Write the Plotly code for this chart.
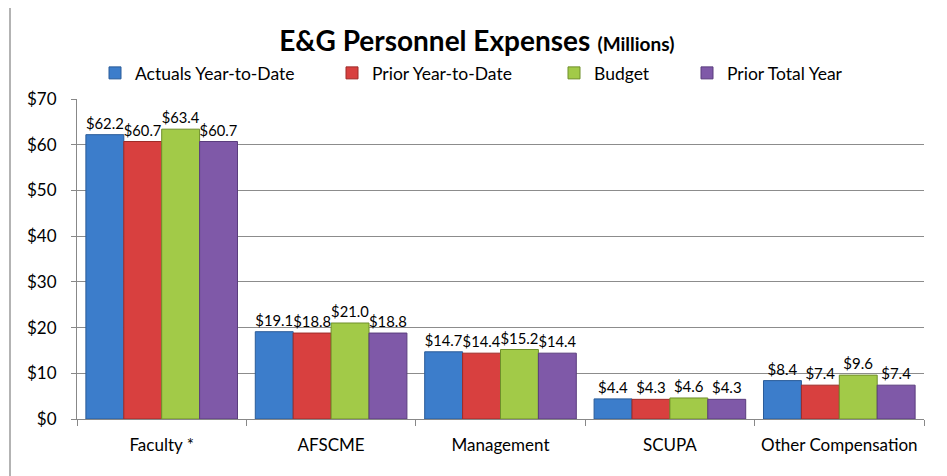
import plotly.graph_objects as go

categories = ["Faculty *", "AFSCME", "Management", "SCUPA", "Other Compensation"]
series_names = ["Actuals Year-to-Date", "Prior Year-to-Date", "Budget", "Prior Total Year"]
actuals_ytd = [62.2, 19.1, 14.7, 4.4, 8.4]
prior_ytd = [60.7, 18.8, 14.4, 4.3, 7.4]
budget = [63.4, 21.0, 15.2, 4.6, 9.6]
prior_total = [60.7, 18.8, 14.4, 4.3, 7.4]
tick_vals = [0, 10, 20, 30, 40, 50, 60, 70]
tick_text = ["$0", "$10", "$20", "$30", "$40", "$50", "$60", "$70"]

W, H = 947, 476
colors = ["#3C7DCB", "#D8403F", "#A2CA48", "#7F59A8"]
line_colors = ["#2A5C99", "#9E2B28", "#6F8F2A", "#5A3D7D"]
series_values = [actuals_ytd, prior_ytd, budget, prior_total]
legend_ids = ["legend", "legend2", "legend3", "legend4"]
legend_px = [87, 324, 546, 679]

FONT = "Lato"
fig = go.Figure()
for name, vals, c, lc, lid in zip(series_names, series_values, colors, line_colors, legend_ids):
    fig.add_trace(go.Bar(
        name=name, x=categories, y=vals,
        marker=dict(color=c, line=dict(color=lc, width=1)),
        text=[f"${v:.1f}" for v in vals], textposition="outside",
        textfont=dict(family=FONT, size=15, color="#000000"),
        cliponaxis=False, legend=lid, showlegend=True,
    ))

layout_legends = {}
for lid, lx in zip(legend_ids, legend_px):
    layout_legends[lid] = dict(
        xref="container", yref="container",
        x=lx / W, y=1 - 65 / H, xanchor="left", yanchor="middle", orientation="h",
        font=dict(family=FONT, size=17.5, color="#000000"),
        bgcolor="rgba(0,0,0,0)", itemwidth=30,
    )

fig.update_layout(
    width=W, height=H,
    showlegend=True,
    margin=dict(l=69, r=31, t=91, b=65, autoexpand=False),
    paper_bgcolor="white", plot_bgcolor="white",
    barmode="group", bargap=0.105, bargroupgap=0,
    title=dict(
        text="<b>E&G Personnel Expenses</b> <b><span style='font-size:19px'>(Millions)</span></b>",
        x=0.495, xanchor="center", xref="container", y=1 - 33 / H, yanchor="middle", yref="container",
        font=dict(family=FONT, size=28, color="#000000"),
    ),
    xaxis=dict(
        showgrid=False, showline=True, linecolor="#888888", linewidth=1,
        ticks="outside", tickson="boundaries", ticklen=6, tickcolor="#888888",
        tickfont=dict(family=FONT, size=17, color="#000000"),
        ticklabelstandoff=11,
    ),
    yaxis=dict(
        range=[0, 70], tickvals=tick_vals, ticktext=tick_text,
        showgrid=True, gridcolor="#8C8C8C", gridwidth=1,
        showline=True, linecolor="#888888", linewidth=1,
        ticks="outside", ticklen=5, tickcolor="#888888",
        tickfont=dict(family=FONT, size=17, color="#000000"),
        ticklabelstandoff=11,
        zeroline=False,
    ),
    **layout_legends,
)

# chart frame borders
fig.add_shape(type="rect", xref="paper", yref="paper",
              x0=-67/847, x1=(940-77)/847, y0=(419-500)/320, y1=(419-4)/320,
              line=dict(color="#9A9A9A", width=1.5), fillcolor="rgba(0,0,0,0)", layer="below")
fig.add_shape(type="line", xref="paper", yref="paper",
              x0=-75/847, x1=-75/847, y0=(419-500)/320, y1=(419+8)/320,
              line=dict(color="#9A9A9A", width=1))

fig.write_html("out.html")
